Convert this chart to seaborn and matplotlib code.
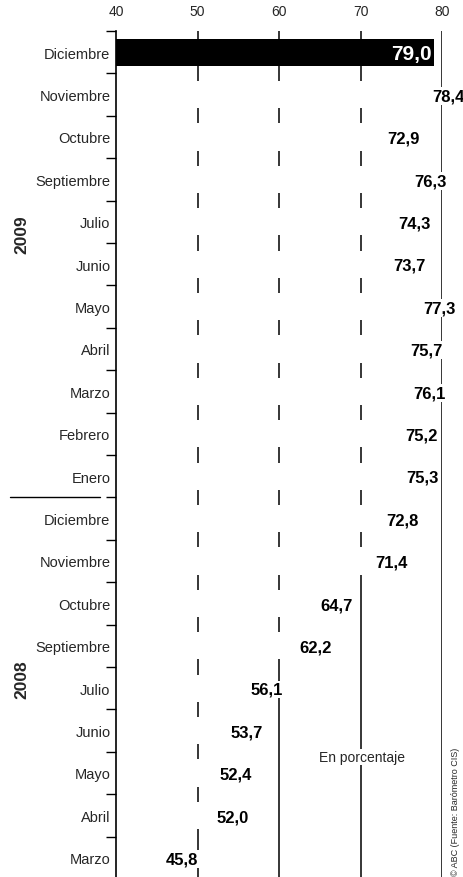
import matplotlib
matplotlib.use("Agg")
import matplotlib.pyplot as plt
import seaborn as sns
import pandas as pd
import numpy as np

months = ["Diciembre", "Noviembre", "Octubre", "Septiembre", "Julio", "Junio",
          "Mayo", "Abril", "Marzo", "Febrero", "Enero",
          "Diciembre", "Noviembre", "Octubre", "Septiembre", "Julio", "Junio",
          "Mayo", "Abril", "Marzo"]
years = ["2009"] * 11 + ["2008"] * 9
values = [79.0, 78.4, 72.9, 76.3, 74.3, 73.7, 77.3, 75.7, 76.1, 75.2, 75.3,
          72.8, 71.4, 64.7, 62.2, 56.1, 53.7, 52.4, 52.0, 45.8]
x_ticks = [40, 50, 60, 70, 80]

df = pd.DataFrame({"mes": months, "anio": years, "valor": values})
df["fila"] = [f"{m}_{y}" for m, y in zip(df["mes"], df["anio"])]

sns.set_style("white")
plt.rcParams["font.family"] = ["Liberation Sans", "DejaVu Sans"]

fig = plt.figure(figsize=(4.63, 8.78), dpi=100)
ax = fig.add_axes([116 / 463, -2 / 878, (442 - 116) / 463, 848 / 878])

n = len(df)
# lineas de referencia; las barras blancas las tapan
for x in x_ticks[1:]:
    ax.axvline(x, color="black", lw=1.1, zorder=0)

colors = ["black"] + ["white"] * (n - 1)
sns.barplot(data=df, x="valor", y="fila", hue="fila", palette=colors,
            legend=False, orient="h", width=0.64, ax=ax, zorder=2,
            linewidth=0)

ax.set_xlim(40, 80)
ax.set_ylim(n - 0.5, -0.5)
ax.xaxis.tick_top()
ax.set_xticks(x_ticks)
ax.set_xticklabels([str(t) for t in x_ticks], fontsize=10)
ax.tick_params(axis="x", length=0, pad=9)
ax.set_yticks(range(n))
ax.set_yticklabels(df["mes"], fontsize=10.5)
ax.set_yticks(np.arange(-0.5, n, 1), minor=True)
ax.tick_params(axis="y", which="major", length=0, pad=4)
ax.tick_params(axis="y", which="minor", length=7, width=1, direction="out",
               color="black", left=True)
ax.set_xlabel("")
ax.set_ylabel("")
for s in ["top", "right", "bottom"]:
    ax.spines[s].set_visible(False)
ax.spines["left"].set_color("black")
ax.spines["left"].set_linewidth(1.2)
ax.spines["left"].set_zorder(3)

for i, v in enumerate(df["valor"]):
    lbl = f"{v:.1f}".replace(".", ",")
    if i == 0:
        ax.text(v - 0.2, i + 0.03, lbl, color="white", fontsize=15,
                fontweight="bold", ha="right", va="center", zorder=4)
    else:
        ax.text(v + 0.35, i + 0.03, lbl, color="black", fontsize=12,
                fontweight="bold", ha="left", va="center", zorder=4,
                bbox=dict(facecolor="white", edgecolor="none", pad=1))

fig.text(22 / 463, 1 - 235 / 878, "2009", rotation=90, fontsize=12.5,
         fontweight="bold", ha="center", va="center")
fig.text(22 / 463, 1 - 680 / 878, "2008", rotation=90, fontsize=12.5,
         fontweight="bold", ha="center", va="center")
fig.add_artist(plt.Line2D([10 / 463, 100 / 463], [1 - 498 / 878, 1 - 498 / 878],
                          color="black", lw=1))
fig.text(362 / 463, 1 - 758 / 878, "En porcentaje", fontsize=10,
         ha="center", va="center",
         bbox=dict(facecolor="white", edgecolor="none", pad=1))
fig.text(455 / 463, 1 - 812 / 878, "© ABC (Fuente: Barómetro CIS)",
         rotation=90, fontsize=6.5, ha="center", va="center")

fig.savefig("out.png", dpi=100)
